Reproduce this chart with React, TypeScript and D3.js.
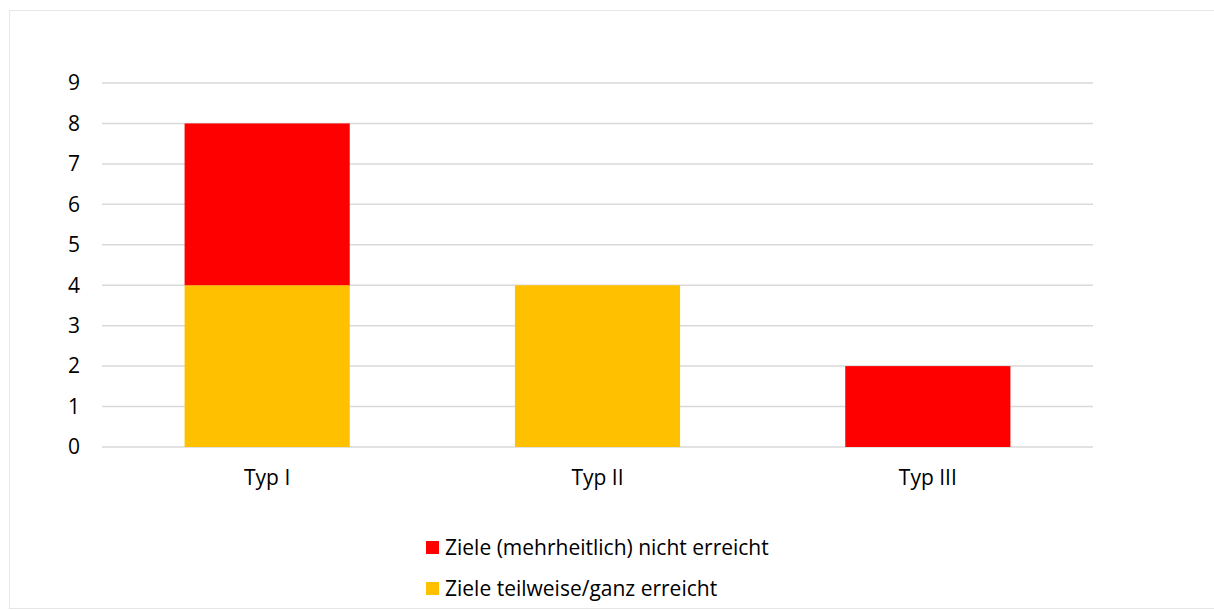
import * as d3 from 'd3'

const categories = ['Typ I', 'Typ II', 'Typ III']
const seriesNames = ['Ziele teilweise/ganz erreicht', 'Ziele (mehrheitlich) nicht erreicht']
const reached = [4, 4, 0]
const notReached = [4, 0, 2]
const yTicks = [0, 1, 2, 3, 4, 5, 6, 7, 8, 9]

const colors = ['#FFC000', '#FF0000']
const font = "'Open Sans', sans-serif"

export default function App() {
  const width = 1214
  const height = 610
  const margin = { top: 83, right: 121, bottom: 163, left: 102 }

  const x = d3
    .scaleBand()
    .domain(categories)
    .range([margin.left, width - margin.right])
    .paddingInner(0.5)
    .paddingOuter(0.25)

  const y = d3
    .scaleLinear()
    .domain([0, 9])
    .range([height - margin.bottom, margin.top])

  const rows = categories.map((c, i) => ({ cat: c, reached: reached[i], notReached: notReached[i] }))
  const stacked = d3.stack<any>().keys(['reached', 'notReached'])(rows)

  // legend listed top-down: red first, then yellow
  const legendItems = [
    { name: seriesNames[1], color: colors[1] },
    { name: seriesNames[0], color: colors[0] },
  ]

  return (
    <svg
      width={width}
      height={height}
      style={{ position: 'absolute', left: 0, top: 0, fontFamily: font }}
    >
      <rect x={9.5} y={10.5} width={1210} height={598} fill="#fff" stroke="#E6E6E6" />

      {yTicks.map(t => (
        <g key={t}>
          <line
            x1={margin.left}
            x2={width - margin.right}
            y1={y(t)}
            y2={y(t)}
            stroke="#D9D9D9"
            strokeWidth={1.5}
          />
          <text x={80} y={y(t)} dy="0.35em" textAnchor="end" fontSize={21} fill="#000">
            {t}
          </text>
        </g>
      ))}

      {stacked.map((s, si) =>
        s.map((d, i) =>
          d[1] - d[0] > 0 ? (
            <rect
              key={`${si}-${i}`}
              x={x(categories[i])!}
              width={x.bandwidth()}
              y={y(d[1])}
              height={y(d[0]) - y(d[1])}
              fill={colors[si]}
            />
          ) : null
        )
      )}

      {categories.map(c => (
        <text
          key={c}
          x={x(c)! + x.bandwidth() / 2}
          y={478}
          dy="0.35em"
          textAnchor="middle"
          fontSize={21}
          fill="#000"
        >
          {c}
        </text>
      ))}

      {legendItems.map((item, i) => (
        <g key={item.name} transform={`translate(426,${548 + i * 41})`}>
          <rect x={0} y={-7} width={13} height={13} fill={item.color} />
          <text x={19} y={0} dy="0.35em" fontSize={21} fill="#000">
            {item.name}
          </text>
        </g>
      ))}
    </svg>
  )
}
